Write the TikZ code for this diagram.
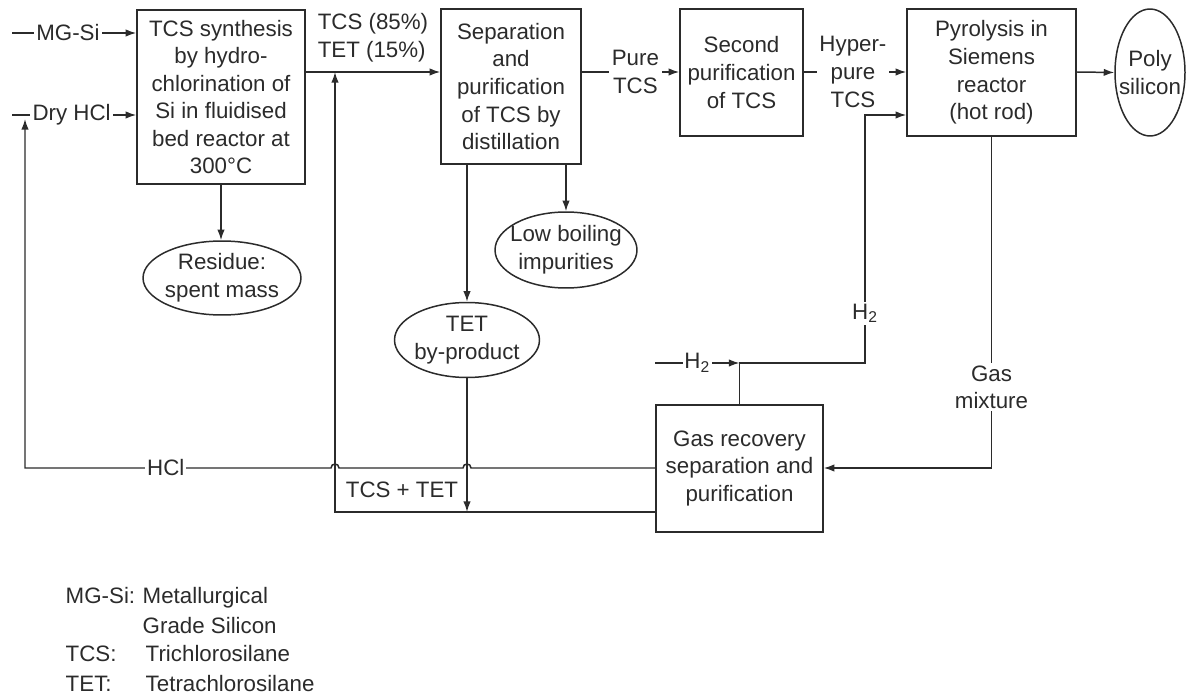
\documentclass[tikz,border=0pt]{standalone}
\usepackage{fontspec}
\setmainfont{Liberation Sans}
\usetikzlibrary{arrows.meta,shapes.geometric}
\definecolor{ink}{gray}{0.17}
\begin{document}
\begin{tikzpicture}[x=0.02cm,y=-0.02cm, line width=0.85pt, color=ink,
  >={Latex[length=6pt,width=4.2pt]},
  every node/.style={font=\fontsize{12.7}{15.7}\selectfont, text=ink},
  box/.style={draw, rectangle, align=center, inner sep=0pt},
  oval/.style={draw, ellipse, inner sep=0pt},
  lbl/.style={fill=white, inner sep=1.5pt, align=center},
  leg/.style={anchor=base west, inner sep=0pt}]
\useasboundingbox (0,0) rectangle (1186,695);

% process boxes
\node[box, minimum width=3.36cm, minimum height=3.48cm] (syn) at (221,97) {TCS synthesis\\by hydro-\\chlorination of\\Si in fluidised\\bed reactor at\\300°C};
\node[box, minimum width=2.8cm, minimum height=3.1cm] (sep) at (511,86.5) {Separation\\and\\purification\\of TCS by\\distillation};
\node[box, minimum width=2.46cm, minimum height=2.54cm] (sec) at (741.5,72.5) {Second\\purification\\of TCS};
\node[box, minimum width=3.38cm, minimum height=2.54cm] (pyr) at (991.5,72.5) {Pyrolysis in\\Siemens\\reactor\\(hot rod)};
\node[box, minimum width=3.34cm, minimum height=2.54cm] (gas) at (739.5,468.5) {Gas recovery\\separation and\\purification};

% ovals
\node[oval, minimum width=1.4cm, minimum height=2.54cm, label={[align=center]center:Poly\\silicon}] (poly) at (1150,72.5) {};
\node[oval, minimum width=3.16cm, minimum height=1.48cm, label={[align=center]center:Residue:\\spent mass}] (res) at (222,278) {};
\node[oval, minimum width=2.84cm, minimum height=1.52cm, label={[align=center]center:Low boiling\\impurities}] (low) at (566,250) {};
\node[oval, minimum width=2.9cm, minimum height=1.5cm, label={[align=center]center:TET\\by-product}] (tet) at (467,340) {};

% helper coordinates
\coordinate (mg) at (12,33);
\coordinate (hclin) at (12,115);
\coordinate (y72) at (0,72);
\coordinate (bot) at (0,512);
\coordinate (hcly) at (0,468);
\coordinate (h2in) at (655,363);
\coordinate (h2r) at (865,363);
\coordinate (h2t) at (865,115);
\coordinate (retb) at (335,512);
\coordinate (rett) at (335,72);
\coordinate (hclc) at (25,468);
\coordinate (hclt) at (25,119);

% inputs
\draw[->] (mg) -- node[lbl,pos=0.45]{MG-Si} (mg -| syn.west);
\draw[->] (hclin) -- node[lbl,pos=0.48]{Dry HCl} (hclin -| syn.west);

% main line
\draw[->] (syn.east |- y72) -- (sep.west |- y72);
\node[align=left, inner sep=0pt] (tt) at (373,38) {TCS (85\%)\\TET (15\%)};
\draw[->] (sep.east |- y72) -- node[lbl,pos=0.55]{Pure\\TCS} (sec.west |- y72);
\draw[->] (sec.east |- y72) -- node[lbl,pos=0.48]{Hyper-\\pure\\TCS} (pyr.west |- y72);
\draw[->] (pyr.east |- y72) -- (poly.west);

% outputs down
\draw[->] (syn.south) -- (syn.south |- res.north);
\draw[->] (sep.south -| low) -- (low.north);
\draw[->] (sep.south -| tet) -- (tet.north);
\draw[->] (tet.south) -- (tet.south |- bot);

% TCS + TET recycle
\draw[->] (gas.west |- bot) -- (retb) -- (rett);
\node (tcstet) at (402,490) {TCS + TET};

% HCl recycle with hops
\draw[->] (gas.west |- hcly) -- (471,468) .. controls (471,462.7) and (463,462.7) .. (463,468)
  -- (339,468) .. controls (339,462.7) and (331,462.7) .. (331,468)
  -- node[lbl,pos=0.54,inner sep=1pt]{HCl} (hclc) -- (hclt);

% H2
\draw[->] (h2in) -- node[lbl,pos=0.5,inner sep=1pt]{H\textsubscript{2}} (gas.north |- h2in);
\draw[->] (gas.north) -- (gas.north |- h2in) -- (h2r) -- node[lbl,pos=0.2,inner sep=1pt]{H\textsubscript{2}} (h2t) -- (pyr.west |- h2t);

% gas mixture
\draw[->] (pyr.south) -- node[lbl,pos=0.756]{Gas\\mixture} (pyr.south |- hcly) -- (gas.east |- hcly);

% legend
\node[leg] (l1) at (65,603) {MG-Si:};
\node[leg] (l1b) at (142,603) {Metallurgical};
\node[leg] (l1c) at (142,633) {Grade Silicon};
\node[leg] (l2) at (65,661) {TCS:};
\node[leg] (l2b) at (145,661) {Trichlorosilane};
\node[leg] (l3) at (65,691) {TET:};
\node[leg] (l3b) at (145,691) {Tetrachlorosilane};
\end{tikzpicture}
\end{document}
